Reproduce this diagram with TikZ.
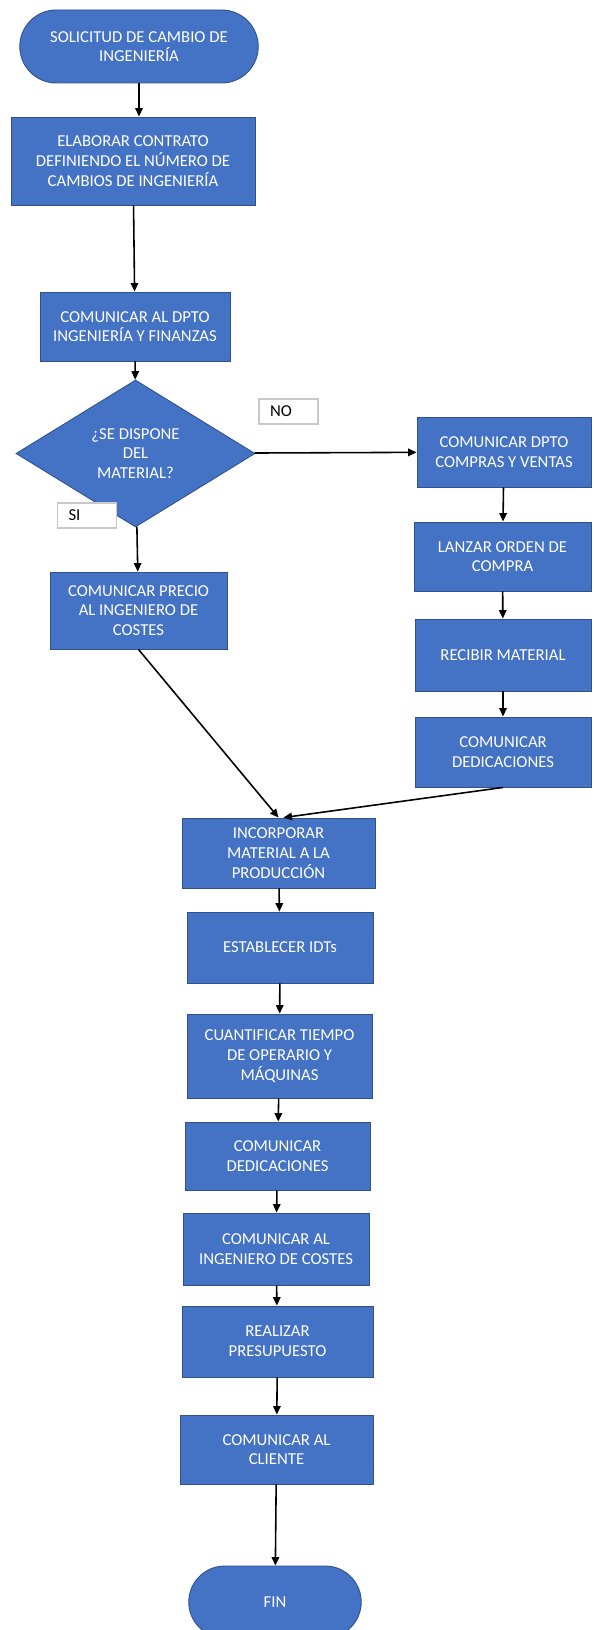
\documentclass[tikz,border=0pt]{standalone}
\usepackage{fontspec}
\setmainfont{Carlito}
\usepackage{xcolor}
\usetikzlibrary{arrows.meta,positioning,shapes.geometric,shapes.misc}

\definecolor{boxblue}{HTML}{4472C4}
\definecolor{boxedge}{HTML}{2F528F}
\definecolor{tagedge}{HTML}{C8C8C8}

\tikzset{
  proc/.style={rectangle, draw=boxedge, fill=boxblue, text=white, align=center,
    font=\fontsize{9.5}{11.2}\selectfont, line width=0.5pt, inner sep=1pt,
    minimum width=3.72cm, minimum height=1.40cm},
  term/.style={proc, rounded rectangle},
  decis/.style={proc, diamond, inner sep=0pt},
  tag/.style={rectangle, draw=tagedge, fill=white, text=black, align=left,
    font=\fontsize{9.5}{11.2}\selectfont, text width=0.74cm, inner xsep=0.22cm,
    minimum height=0.5cm, line width=0.6pt},
  flow/.style={->, line width=0.9pt}
}

\begin{document}
\begin{tikzpicture}[>={Triangle[length=0.17cm,width=0.15cm]}]
    % Fix the page to the size of the reference
    \useasboundingbox (0,0) rectangle (11.86,-32.6);

    % Start and first steps
    \node[term, minimum width=4.84cm, minimum height=1.46cm] (solicitud) at (2.78,-0.93) {SOLICITUD DE CAMBIO DE\\INGENIERÍA};
    \node[proc, minimum width=4.88cm, minimum height=1.76cm] (contrato) at (2.66,-3.22) {ELABORAR CONTRATO\\DEFINIENDO EL NÚMERO DE\\CAMBIOS DE INGENIERÍA};
    \node[proc, minimum width=3.80cm, minimum height=1.38cm] (dpto) at (2.70,-6.53) {COMUNICAR AL DPTO\\INGENIERÍA Y FINANZAS};

    % Decision
    \node[decis, minimum width=4.78cm, minimum height=2.94cm] (dispone) at (2.71,-9.07) {¿SE DISPONE\\DEL\\MATERIAL?};

    % Branch NO (right column)
    \node[proc, minimum width=3.48cm] (compras) at (10.08,-9.04) {COMUNICAR DPTO\\COMPRAS Y VENTAS};
    \node[proc, minimum width=3.54cm, minimum height=1.38cm] (orden) at (10.05,-11.13) {LANZAR ORDEN DE\\COMPRA};
    \node[proc, minimum width=3.52cm, minimum height=1.44cm] (recibir) at (10.06,-13.10) {RECIBIR MATERIAL};
    \node[proc, minimum width=3.52cm] (dedicA) at (10.06,-15.04) {COMUNICAR\\DEDICACIONES};

    % Branch SI (left column)
    \node[proc, minimum width=3.54cm, minimum height=1.54cm] (precio) at (2.77,-12.21) {COMUNICAR PRECIO\\AL INGENIERO DE\\COSTES};

    % Common steps
    \node[proc, minimum width=3.86cm] (incorporar) at (5.57,-17.06) {INCORPORAR\\MATERIAL A LA\\PRODUCCIÓN};
    \node[proc, minimum height=1.42cm] (idts) at (5.60,-18.95) {ESTABLECER IDTs};
    \node[proc, minimum width=3.70cm, minimum height=1.68cm] (tiempo) at (5.59,-21.12) {CUANTIFICAR TIEMPO\\DE OPERARIO Y\\MÁQUINAS};
    \node[proc, minimum width=3.70cm, minimum height=1.36cm] (dedicB) at (5.55,-23.12) {COMUNICAR\\DEDICACIONES};
    \node[proc, minimum height=1.44cm] (ingeniero) at (5.52,-24.98) {COMUNICAR AL\\INGENIERO DE COSTES};
    \node[proc, minimum width=3.82cm, minimum height=1.42cm] (presupuesto) at (5.55,-26.83) {REALIZAR\\PRESUPUESTO};
    \node[proc, minimum width=3.86cm, minimum height=1.38cm] (cliente) at (5.53,-28.99) {COMUNICAR AL\\CLIENTE};
    \node[term, minimum width=3.52cm, minimum height=1.44cm] (fin) at (5.50,-32.04) {FIN};

    % Draw the connectors
    \draw[flow] (solicitud.south) -- (solicitud.south |- contrato.north);
    \draw[flow] (contrato) -- (dpto);
    \draw[flow] (dpto) -- (dispone);
    \draw[flow] (dispone) -- (compras);
    \draw[flow] (dispone) -- (precio);
    \draw[flow] (compras) -- (orden);
    \draw[flow] (orden) -- (recibir);
    \draw[flow] (recibir) -- (dedicA);
    \draw[flow] (precio.south) -- (incorporar.north);
    \draw[flow] (dedicA.south) -- ([xshift=0.1cm]incorporar.north);
    \draw[flow] (incorporar) -- (idts);
    \draw[flow] (idts) -- (tiempo);
    \draw[flow] (tiempo) -- (dedicB);
    \draw[flow] (dedicB) -- (ingeniero);
    \draw[flow] (ingeniero) -- (presupuesto);
    \draw[flow] (presupuesto) -- (cliente);
    \draw[flow] (cliente) -- (fin);

    % Labels of the two branches
    \node[tag] (no) at (5.77,-8.23) {NO};
    \node[tag] (si) at (1.74,-10.31) {SI};
\end{tikzpicture}
\end{document}
